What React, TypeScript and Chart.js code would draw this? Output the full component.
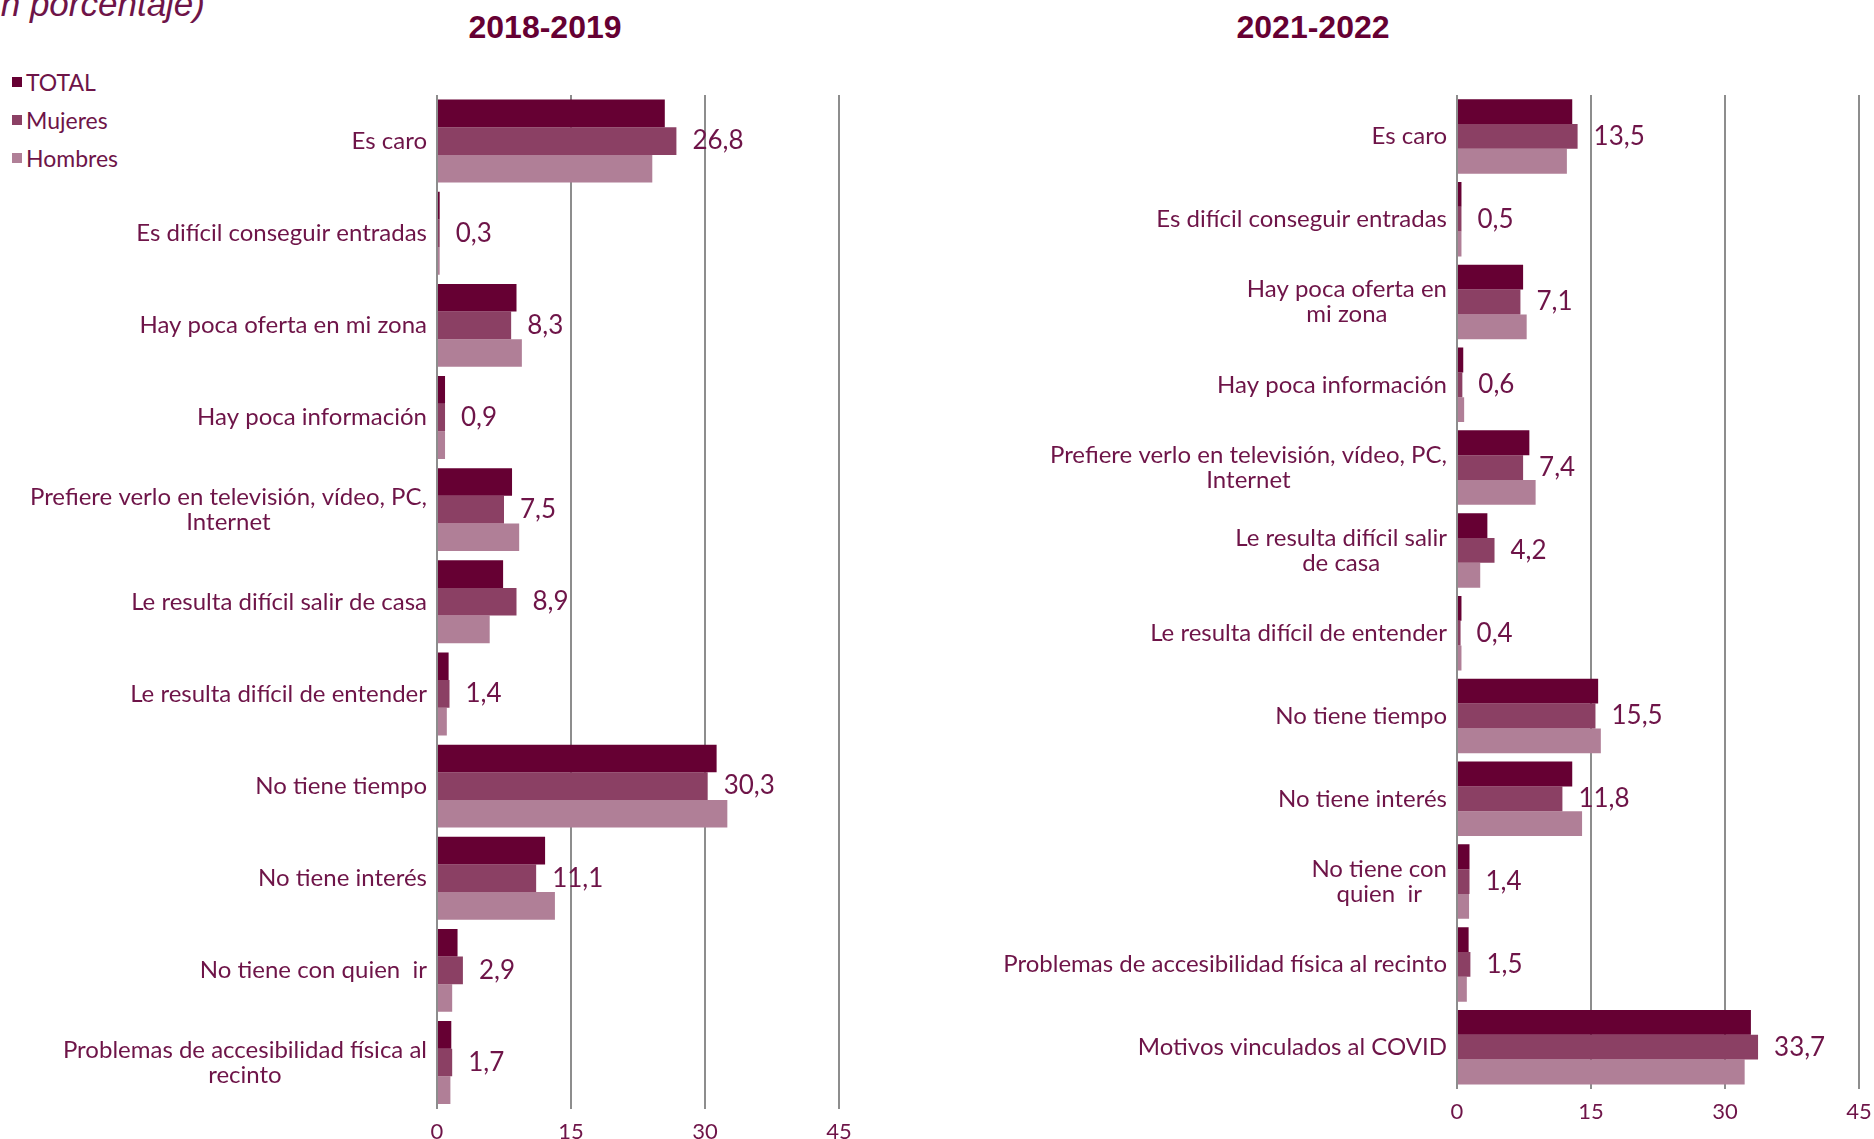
import React, { useEffect, useRef } from 'react';
import { Chart, registerables } from 'chart.js';

Chart.register(...registerables);

const SERIES = ['TOTAL', 'Mujeres', 'Hombres'];
const COLORS = ['#660033', '#8b4064', '#b07f97'];
const TEXT = '#6e1448';
const TITLE_COLOR = '#660033';
const X_TICKS = [0, 15, 30, 45];

const TITLE_1 = '2018-2019';
const CATS_1: (string | string[])[] = [
  'Es caro',
  'Es difícil conseguir entradas',
  'Hay poca oferta en mi zona',
  'Hay poca información',
  ['Prefiere verlo en televisión, vídeo, PC,', 'Internet'],
  'Le resulta difícil salir de casa',
  'Le resulta difícil de entender',
  'No tiene tiempo',
  'No tiene interés',
  'No tiene con quien  ir',
  ['Problemas de accesibilidad física al', 'recinto'],
];
const TOTAL_1 = [25.5, 0.3, 8.9, 0.9, 8.4, 7.4, 1.3, 31.3, 12.1, 2.3, 1.6];
const MUJERES_1 = [26.8, 0.3, 8.3, 0.9, 7.5, 8.9, 1.4, 30.3, 11.1, 2.9, 1.7];
const HOMBRES_1 = [24.1, 0.3, 9.5, 0.9, 9.2, 5.9, 1.1, 32.5, 13.2, 1.7, 1.5];

const TITLE_2 = '2021-2022';
const CATS_2: (string | string[])[] = [
  'Es caro',
  'Es difícil conseguir entradas',
  ['Hay poca oferta en', 'mi zona'],
  'Hay poca información',
  ['Prefiere verlo en televisión, vídeo, PC,', 'Internet'],
  ['Le resulta difícil salir', 'de casa'],
  'Le resulta difícil de entender',
  'No tiene tiempo',
  'No tiene interés',
  ['No tiene con', 'quien  ir'],
  'Problemas de accesibilidad física al recinto',
  'Motivos vinculados al COVID',
];
const TOTAL_2 = [12.9, 0.5, 7.4, 0.7, 8.1, 3.4, 0.5, 15.8, 12.9, 1.4, 1.3, 32.9];
const MUJERES_2 = [13.5, 0.5, 7.1, 0.6, 7.4, 4.2, 0.4, 15.5, 11.8, 1.4, 1.5, 33.7];
const HOMBRES_2 = [12.3, 0.5, 7.8, 0.8, 8.8, 2.6, 0.5, 16.1, 14.0, 1.35, 1.1, 32.2];

const FONT = 'Lato, "Open Sans", sans-serif';
const WEIGHT = 400;

const catLabelPlugin = {
  id: 'catLabels',
  afterDraw(chart: any) {
    const { ctx, chartArea } = chart;
    const yScale = chart.scales.y;
    const labels = chart.data.labels as (string | string[])[];
    ctx.save();
    ctx.font = `${WEIGHT} 24px ${FONT}`;
    ctx.fillStyle = TEXT;
    ctx.textAlign = 'center';
    ctx.textBaseline = 'middle';
    labels.forEach((lab, i) => {
      const lines = Array.isArray(lab) ? lab : [lab];
      const w = Math.max(...lines.map((l) => ctx.measureText(l).width));
      const cx = chartArea.left - 10 - w / 2;
      const cy = yScale.getPixelForValue(i);
      const lh = 25;
      lines.forEach((l, j) => {
        ctx.fillText(l, cx, cy + (j - (lines.length - 1) / 2) * lh);
      });
    });
    ctx.restore();
  },
};

const valueLabelPlugin = {
  id: 'valueLabels',
  afterDraw(chart: any) {
    const { ctx } = chart;
    const meta = chart.getDatasetMeta(1);
    const data = chart.data.datasets[1].data as number[];
    ctx.save();
    ctx.font = `${WEIGHT} 26px ${FONT}`;
    ctx.fillStyle = TEXT;
    ctx.textAlign = 'left';
    ctx.textBaseline = 'middle';
    meta.data.forEach((bar: any, i: number) => {
      const v = data[i];
      ctx.fillText(v.toFixed(1).replace('.', ','), bar.x + 16, bar.y);
    });
    ctx.restore();
  },
};

type PanelProps = {
  cats: (string | string[])[];
  total: number[];
  mujeres: number[];
  hombres: number[];
  width: number;
  height: number;
  padding: { left: number; right: number; top: number; bottom: number };
};

function Panel({ cats, total, mujeres, hombres, width, height, padding }: PanelProps) {
  const ref = useRef<HTMLCanvasElement | null>(null);
  useEffect(() => {
    if (!ref.current) return;
    const values = [total, mujeres, hombres];
    const chart = new Chart(ref.current, {
      type: 'bar',
      data: {
        labels: cats as any,
        datasets: SERIES.map((s, i) => ({
          label: s,
          data: values[i],
          backgroundColor: COLORS[i],
          borderWidth: 0,
          categoryPercentage: 0.9,
          barPercentage: 1.0,
        })),
      },
      options: {
        indexAxis: 'y',
        responsive: false,
        animation: false,
        devicePixelRatio: 1,
        layout: { padding },
        plugins: {
          legend: { display: false },
          tooltip: { enabled: false },
          title: { display: false },
        },
        scales: {
          x: {
            type: 'linear',
            min: 0,
            max: 45,
            z: 1,
            afterBuildTicks: (axis: any) => {
              axis.ticks = X_TICKS.map((v) => ({ value: v }));
            },
            ticks: {
              color: TEXT,
              font: { family: FONT, size: 22, weight: WEIGHT as any },
              padding: 10,
              maxRotation: 0,
            },
            grid: {
              color: 'rgba(80,80,80,0.65)',
              lineWidth: 2,
              drawTicks: false,
            },
            border: { display: false },
          },
          y: {
            type: 'category',
            display: false,
            grid: { display: false },
          },
        },
      },
      plugins: [catLabelPlugin, valueLabelPlugin],
    });
    return () => chart.destroy();
  }, []);
  return <canvas ref={ref} width={width} height={height} style={{ width, height, display: 'block' }} />;
}

const titleStyle = (cx: number): React.CSSProperties => ({
  position: 'absolute',
  left: cx - 200,
  width: 400,
  top: 8,
  textAlign: 'center',
  fontFamily: '"Liberation Sans", Arial, sans-serif',
  fontWeight: 'bold',
  fontSize: 32,
  lineHeight: '38px',
  color: TITLE_COLOR,
});

export default function App() {
  return (
    <div
      style={{
        position: 'absolute',
        left: 0,
        top: 0,
        width: 1874,
        height: 1139,
        overflow: 'hidden',
        background: '#fff',
        fontFamily: FONT,
      }}
    >
      <div
        style={{
          position: 'absolute',
          right: 1874 - 205,
          top: -14,
          fontSize: 35,
          fontFamily: '"Liberation Sans", Arial, sans-serif',
          fontStyle: 'italic',
          color: TEXT,
          whiteSpace: 'nowrap',
          lineHeight: 1,
        }}
      >
        (en porcentaje)
      </div>
      <div style={titleStyle(545)}>{TITLE_1}</div>
      <div style={titleStyle(1313)}>{TITLE_2}</div>
      {SERIES.map((s, i) => (
        <div
          key={s}
          style={{
            position: 'absolute',
            left: 12,
            top: 82 + i * 38 - 14,
            height: 28,
            display: 'flex',
            alignItems: 'center',
            fontSize: 23,
            fontWeight: WEIGHT,
            color: TEXT,
            whiteSpace: 'nowrap',
          }}
        >
          <span style={{ display: 'inline-block', width: 10, height: 10, background: COLORS[i], marginRight: 4 }} />
          {s}
        </div>
      ))}
      <div style={{ position: 'absolute', left: 0, top: 0 }}>
        <Panel
          cats={CATS_1}
          total={TOTAL_1}
          mujeres={MUJERES_1}
          hombres={HOMBRES_1}
          width={900}
          height={1170}
          padding={{ left: 437, right: 61, top: 95, bottom: 15 }}
        />
      </div>
      <div style={{ position: 'absolute', left: 1000, top: 0 }}>
        <Panel
          cats={CATS_2}
          total={TOTAL_2}
          mujeres={MUJERES_2}
          hombres={HOMBRES_2}
          width={900}
          height={1170}
          padding={{ left: 457, right: 41, top: 95, bottom: 35 }}
        />
      </div>
    </div>
  );
}
